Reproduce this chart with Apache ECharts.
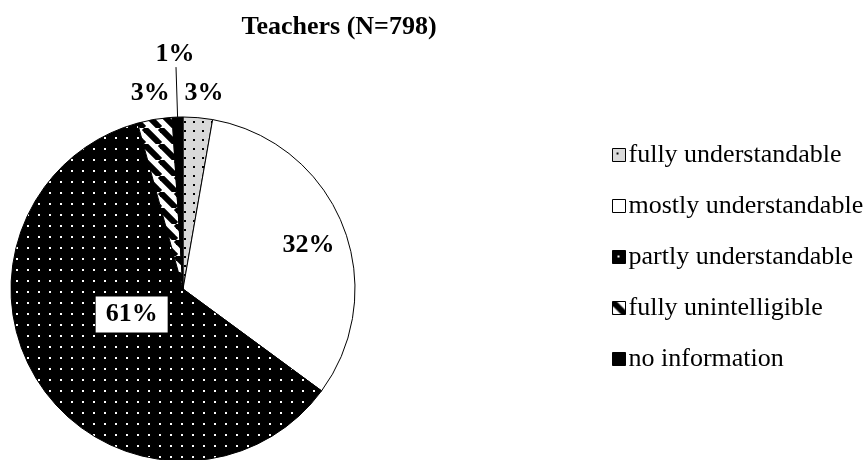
<!DOCTYPE html>
<html><head><meta charset="utf-8">
<script src="https://cdn.jsdelivr.net/npm/echarts@6/dist/echarts.min.js"></script>
<style>html,body{margin:0;padding:0;background:#fff}#c{width:867px;height:460px}</style>
</head><body><div id="c"></div>
<script>
const titleText = 'Teachers (N=798)';
const categories = ['fully understandable','mostly understandable','partly understandable','fully unintelligible','no information'];
const counts = [22, 258, 484, 26, 8];

function pat(w, h, draw){ const c=document.createElement('canvas'); c.width=w; c.height=h; const g=c.getContext('2d'); draw(g,w,h); return {image:c, repeat:'repeat'}; }
const fills = [
  pat(9,9,(g,w,h)=>{g.fillStyle='#d9d9d9';g.fillRect(0,0,w,h);g.fillStyle='#000';g.fillRect(4,4,2,2);}),
  '#ffffff',
  pat(11,11,(g,w,h)=>{g.fillStyle='#000';g.fillRect(0,0,w,h);g.fillStyle='#fff';g.fillRect(5,5,2,2);}),
  pat(16,16,(g,w,h)=>{g.fillStyle='#fff';g.fillRect(0,0,w,h);g.strokeStyle='#000';g.lineWidth=6;
     for(let k=-2;k<=2;k++){g.beginPath();g.moveTo(k*16,0);g.lineTo(k*16+16,16);g.stroke();}}),
  '#000000'
];
const labelCfg = [
  {position:'outside', color:'#000'},
  {position:'inside', color:'#000'},
  {position:'inside', color:'#000', backgroundColor:'#fff', padding:[5,10]},
  {position:'outside', color:'#000'},
  {position:'outside', color:'#000'}
];
const lineCfg = [
  {show:false, length:6, length2:0},
  {show:false},
  {show:false},
  {show:false, length:6, length2:0},
  {show:true, length:50, length2:0, lineStyle:{color:'#000', width:1}}
];
const data = categories.map((n,i)=>({name:n, value:counts[i], itemStyle:{color:fills[i]}, label:labelCfg[i], labelLine:lineCfg[i]}));

const shifts = [[-19,-18],[43,-11],[22,-25],[21,-20],null];

const chart = echarts.init(document.getElementById('c'), null, {renderer:'canvas'});
chart.setOption({
  animation:false,
  backgroundColor:'#fff',
  title:{text:titleText, left:334, top:9, textAlign:'center',
    textStyle:{fontFamily:'Liberation Serif', fontWeight:'bold', fontSize:26, color:'#000'}},
  legend:{orient:'vertical', left:607, top:137, itemGap:25, itemWidth:13, itemHeight:13, icon:'rect',
    itemStyle:{borderColor:'#000', borderWidth:1},
    textStyle:{fontFamily:'Liberation Serif', fontSize:26, lineHeight:26, color:'#000', padding:[0,0,0,-2]},
    data:categories},
  series:[{
    type:'pie', center:[183,289], radius:172, startAngle:90, clockwise:true,
    avoidLabelOverlap:false,
    itemStyle:{borderColor:'#000', borderWidth:1},
    label:{fontFamily:'Liberation Serif', fontWeight:'bold', fontSize:26,
      formatter:p=>Math.round(p.percent)+'%'},
    labelLayout:function(p){
      const s = shifts[p.dataIndex];
      if(!s) return {align:'center', verticalAlign:'bottom', dx:4};
      return {dx:s[0], dy:s[1]};
    },
    data:data
  }]
});
</script></body></html>
